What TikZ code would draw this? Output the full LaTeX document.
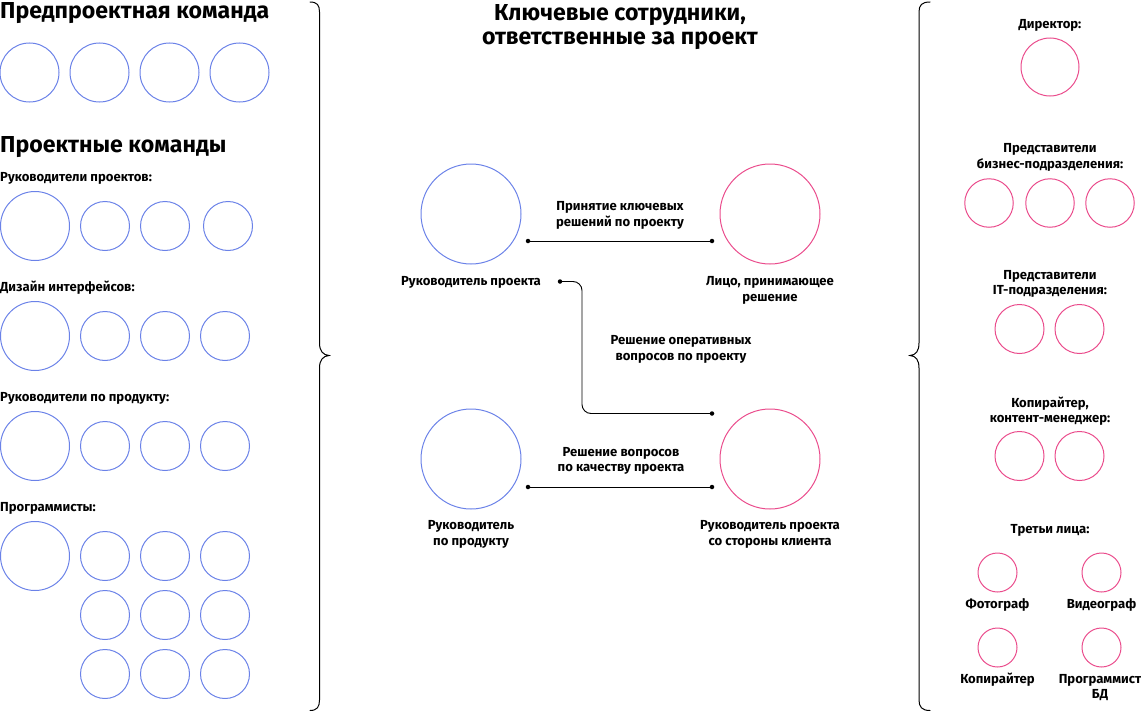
\documentclass[tikz,border=0pt]{standalone}
\usepackage{fontspec}
\setmainfont{Fira Sans}
\definecolor{cblue}{HTML}{6B82E8}
\definecolor{cpink}{HTML}{EA4C8C}
\begin{document}
\begin{tikzpicture}[x=1pt,y=-1pt,
  bc/.style={circle,draw=cblue,line width=1pt,minimum size=#1,inner sep=0pt},
  pc/.style={circle,draw=cpink,line width=1pt,minimum size=#1,inner sep=0pt},
  lbl/.style={font=\fontsize{13.1}{16}\selectfont\bfseries,inner sep=0pt,anchor=base},
  lbll/.style={lbl,anchor=base west},
  ttl/.style={font=\fontsize{23.1}{24}\selectfont\bfseries,inner sep=0pt,anchor=base},
  ttll/.style={ttl,anchor=base west},
  conn/.style={line width=0.9pt},
  dotn/.style={circle,fill=black,inner sep=0pt,minimum size=4.5pt},
  brace/.style={line width=1pt,line cap=round}]
\useasboundingbox (0,0) rectangle (1141,712);

% ---------- left column ----------
\node[ttll] (t1) at (0,19) {Предпроектная команда};
\foreach \i/\x in {1/29.5,2/99.5,3/169.5,4/239.5}
  \node[bc=59pt] (pp\i) at (\x,72.5) {};
\node[ttll] (t2) at (0,152) {Проектные команды};

\node[lbll] (l1) at (0,181) {Руководители проектов:};
\node[bc=69pt] (rp0) at (35,226) {};
\foreach \i/\x in {1/105,2/165,3/228}
  \node[bc=49pt] (rp\i) at (\x,226) {};

\node[lbll] (l2) at (0,291) {Дизайн интерфейсов:};
\node[bc=69pt] (di0) at (35,336) {};
\foreach \i/\x in {1/105,2/165,3/225}
  \node[bc=49pt] (di\i) at (\x,336) {};

\node[lbll] (l3) at (0,401) {Руководители по продукту:};
\node[bc=69pt] (rpp0) at (35,446) {};
\foreach \i/\x in {1/105,2/165,3/225}
  \node[bc=49pt] (rpp\i) at (\x,446) {};

\node[lbll] (l4) at (0,511) {Программисты:};
\node[bc=69pt] (pr0) at (35,556) {};
\foreach \r/\y in {1/556,2/615,3/674}
  \foreach \i/\x in {1/105,2/165,3/225}
    \node[bc=49pt] (pr\r\i) at (\x,\y) {};

% left brace
\draw[brace] (310,2) .. controls (317,2) and (319.5,5) .. (319.5,12)
  -- (319.5,343) .. controls (319.5,351) and (323,355) .. (329,355.5)
  .. controls (323,356) and (319.5,360) .. (319.5,368)
  -- (319.5,700) .. controls (319.5,707) and (317,710.5) .. (310,710.5);

% ---------- centre ----------
\node[ttl] (ct1) at (620,20) {Ключевые сотрудники,};
\node[ttl] (ct2) at (620,44) {ответственные за проект};

\node[bc=100pt] (rpr) at (471,214) {};
\node[pc=100pt] (lpr) at (770,214) {};
\node[bc=100pt] (rpd) at (471,459) {};
\node[pc=100pt] (rkl) at (770,459) {};

\node[lbl] (rprl) at (471,285) {Руководитель проекта};
\node[lbl] (lprl1) at (770,285) {Лицо, принимающее};
\node[lbl] (lprl2) at (770,301) {решение};
\node[lbl] (rpdl1) at (471,529) {Руководитель};
\node[lbl] (rpdl2) at (471,545) {по продукту};
\node[lbl] (rkll1) at (770,529) {Руководитель проекта};
\node[lbl] (rkll2) at (770,545) {со стороны клиента};

\node[lbl] (c1a) at (620,210) {Принятие ключевых};
\node[lbl] (c1b) at (620,226) {решений по проекту};
\node[lbl] (c2a) at (681,344) {Решение оперативных};
\node[lbl] (c2b) at (681,360) {вопросов по проекту};
\node[lbl] (c3a) at (621,456) {Решение вопросов};
\node[lbl] (c3b) at (621,471) {по качеству проекта};

\node[dotn] (d1a) at (528,241) {};
\node[dotn] (d1b) at (712,241) {};
\node[dotn] (d2a) at (560,281.5) {};
\node[dotn] (d2b) at (712,413.5) {};
\node[dotn] (d3a) at (528,487) {};
\node[dotn] (d3b) at (712,487) {};
\coordinate (bend) at (582,413.5);

\draw[conn] (d1a.center) -- (d1b.center);
\draw[conn,rounded corners=9pt] (d2a.center) -| (bend) -- (d2b.center);
\draw[conn] (d3a.center) -- (d3b.center);

% ---------- right column ----------
\node[lbl] (r1) at (1050,28) {Директор:};
\node[pc=58pt] (dir) at (1050,67) {};

\node[lbl] (r2a) at (1050,152) {Представители};
\node[lbl] (r2b) at (1050,168) {бизнес-подразделения:};
\foreach \i/\x in {1/989,2/1050,3/1110}
  \node[pc=48.5pt] (bz\i) at (\x,203) {};

\node[lbl] (r3a) at (1050,279) {Представители};
\node[lbl] (r3b) at (1050,294) {IT-подразделения:};
\foreach \i/\x in {1/1019.5,2/1079.5}
  \node[pc=49pt] (it\i) at (\x,329) {};

\node[lbl] (r4a) at (1050,407) {Копирайтер,};
\node[lbl] (r4b) at (1050,422) {контент-менеджер:};
\foreach \i/\x in {1/1019.5,2/1079.5}
  \node[pc=49pt] (km\i) at (\x,456) {};

\node[lbl] (r5) at (1050,533) {Третьи лица:};
\node[pc=39pt] (tl1) at (997.5,572.5) {};
\node[pc=39pt] (tl2) at (1101.5,572.5) {};
\node[pc=39pt] (tl3) at (997.5,647.5) {};
\node[pc=39pt] (tl4) at (1101.5,647.5) {};
\node[lbl] (tl1l) at (997.5,608) {Фотограф};
\node[lbl] (tl2l) at (1101.5,608) {Видеограф};
\node[lbl] (tl3l) at (997.5,683) {Копирайтер};
\node[lbl] (tl4l) at (1100,683) {Программист};
\node[lbl] (tl4m) at (1100,698) {БД};

% right brace
\draw[brace] (930,2) .. controls (922,2) and (919,5) .. (919,12)
  -- (919,343) .. controls (919,351) and (916,355) .. (910,355.5)
  .. controls (916,356) and (919,360) .. (919,368)
  -- (919,700) .. controls (919,707) and (922,710.5) .. (930,710.5);
\end{tikzpicture}
\end{document}
